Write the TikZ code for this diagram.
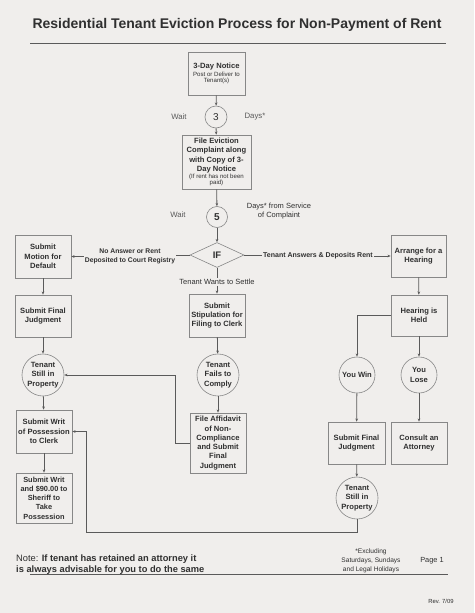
\documentclass[tikz,border=0pt]{standalone}
\usepackage{fontspec}
\setmainfont{Liberation Sans}
\usetikzlibrary{shapes.geometric,arrows.meta,calc}
\definecolor{paper}{RGB}{240,238,236}
\definecolor{ink}{RGB}{48,48,48}
\definecolor{rule}{RGB}{90,90,90}
\definecolor{frame}{RGB}{135,135,135}
\newcommand\finetext{\mdseries\fontsize{6.1}{6.8}\selectfont}

\begin{document}
\begin{tikzpicture}[x=1pt,y=-1pt,
    proc/.style={draw=frame, line width=0.6pt, align=center, text=ink, inner sep=1pt,
      font=\bfseries\fontsize{7.6}{9.3}\selectfont},
    state/.style={circle, draw=frame, line width=0.6pt, align=center, text=ink, inner sep=0pt,
      font=\bfseries\fontsize{7.6}{9.3}\selectfont},
    lbl/.style={text=ink, inner sep=1pt, align=center, font=\fontsize{7.5}{9}\selectfont},
    arr/.style={draw=rule, line width=0.8pt, -{Stealth[length=3.2pt,width=2.6pt]}},
    link/.style={draw=rule, line width=0.8pt}]
                % Page
                \fill[paper] (0,0) rectangle (474,613);
                \useasboundingbox (0,0) rectangle (474,613);

                % Title
                \node[text=ink, font=\bfseries\fontsize{14}{16}\selectfont] (title) at (237,25)
                    {Residential Tenant Eviction Process for Non-Payment of Rent};
                \draw[rule, line width=0.7pt] (30,43) -- (446,43);

                % Notice and waiting periods
                \node[proc, minimum width=57, minimum height=43] (notice) at (216.5,73.5)
                    {3-Day Notice\\[-1.5pt]\finetext Post or Deliver to\\[-3.2pt]\finetext Tenant(s)};
                \node[state, minimum size=22, font=\fontsize{10}{11}\selectfont] (three) at (216,117) {3};
                \node[lbl, text=ink!80, font=\fontsize{7.8}{9}\selectfont] (wait1) at (179,117) {Wait};
                \node[lbl, text=ink!80, font=\fontsize{7.8}{9}\selectfont] (days1) at (255,117) {Days*};
                \node[proc, minimum width=69, minimum height=54, inner sep=0.5pt] (file) at (216.5,162)
                    {File Eviction\\Complaint along\\with Copy of 3-\\Day Notice\\[-2pt]\finetext (If rent has not been\\[-3.2pt]\finetext paid)};
                \node[state, minimum size=21, font=\bfseries\fontsize{10}{11}\selectfont] (five) at (217,217) {5};
                \node[lbl, text=ink!80, font=\fontsize{7.8}{9}\selectfont] (wait2) at (178,215) {Wait};
                \node[lbl] (days2) at (279,211.5) {Days* from Service\\of Complaint};

                % Decision
                \node[diamond, draw=frame, line width=0.6pt, text=ink, inner sep=0pt,
                    minimum width=54, minimum height=25, font=\bfseries\fontsize{9.5}{10}\selectfont] (ifd) at (217,255) {IF};
                \node[lbl, font=\bfseries\fontsize{6.8}{8.8}\selectfont] (noans) at (130,256)
                    {No Answer or Rent\\Deposited to Court Registry};
                \node[lbl, font=\bfseries\fontsize{7}{8.8}\selectfont] (answers) at (318,256)
                    {Tenant Answers \& Deposits Rent};
                \node[lbl] (settle) at (217,282) {Tenant Wants to Settle};

                % Left column
                \node[proc, minimum width=56, minimum height=43] (motion) at (43,256.5) {Submit\\Motion for\\Default};
                \node[proc, minimum width=56, minimum height=42] (judgL) at (43,316) {Submit Final\\Judgment};
                \node[state, minimum size=42] (stillL) at (43,375) {Tenant\\Still in\\Property};
                \node[proc, minimum width=56, minimum height=43] (writ) at (44,431.5) {Submit Writ\\of Possession\\to Clerk};
                \node[proc, minimum width=56, minimum height=50, font=\bfseries\fontsize{7.4}{9.2}\selectfont] (sheriff) at (44,498)
                    {Submit Writ\\and \$90.00 to\\Sheriff to\\Take\\Possession};

                % Middle column
                \node[proc, minimum width=56, minimum height=43] (stip) at (217,315.5) {Submit\\Stipulation for\\Filing to Clerk};
                \node[state, minimum size=42] (fails) at (218,375) {Tenant\\Fails to\\Comply};
                \node[proc, minimum width=56, minimum height=60] (affid) at (218,443)
                    {File Affidavit\\of Non-\\Compliance\\and Submit\\Final\\Judgment};

                % Right column
                \node[proc, minimum width=55, minimum height=42] (arrange) at (418.5,256) {Arrange for a\\Hearing};
                \node[proc, minimum width=56, minimum height=41] (held) at (419,315.5) {Hearing is\\Held};
                \node[state, minimum size=36] (win) at (357,375) {You Win};
                \node[state, minimum size=36] (lose) at (419,375) {You\\Lose};
                \node[proc, minimum width=57, minimum height=42] (judgR) at (356.5,443) {Submit Final\\Judgment};
                \node[proc, minimum width=56, minimum height=42] (consult) at (419,443) {Consult an\\Attorney};
                \node[state, minimum size=42] (stillR) at (357,498) {Tenant\\Still in\\Property};

                % Main line
                \draw[arr] (notice) -- (three);
                \draw[arr] (three) -- (file);
                \draw[arr] (file) -- (five);
                \draw[arr] (five) -- (ifd);

                % Branches from the decision
                \draw[link] (ifd.west) -- (noans.east |- ifd.west);
                \draw[arr] (noans.west |- motion.east) -- (motion.east);
                \draw[link] (ifd.east) -- (answers.west |- ifd.east);
                \draw[arr] (answers.east) -- (arrange.west);
                \draw[link] (ifd.south) -- (settle.north);
                \draw[arr] (settle.south) -- (stip.north);

                % Left column links
                \draw[arr] (motion) -- (judgL);
                \draw[arr] (judgL) -- (stillL);
                \draw[arr] (stillL) -- (writ);
                \draw[arr] (writ) -- (sheriff);

                % Middle column links
                \draw[arr] (stip) -- (fails);
                \draw[arr] (fails) -- (affid);
                \draw[arr] (affid.west) -- ++(-14,0) |- (stillL.east);

                % Right column links
                \draw[arr] (arrange) -- (held);
                \draw[arr] (held.west) -| (win.north);
                \draw[arr] (held.south) -- (lose.north);
                \draw[arr] (win) -- (judgR);
                \draw[arr] (lose) -- (consult);
                \draw[arr] (judgR) -- (stillR);

                % Return loop to the writ
                \coordinate (loop) at (86,532);
                \draw[arr] (stillR.south) |- (loop) |- (writ.east);

                % Footer
                \node[anchor=west, text=ink, align=left, inner sep=0pt, font=\fontsize{9.3}{11}\selectfont] (note) at (16,564.5)
                    {Note: \textbf{If tenant has retained an attorney it}\\\textbf{is always advisable for you to do the same}};
                \draw[rule, line width=0.7pt] (30,574) -- (448,574);
                \node[lbl, font=\fontsize{6.6}{9}\selectfont] (holidays) at (371,561)
                    {*Excluding\\Saturdays, Sundays\\and Legal Holidays};
                \node[lbl, font=\fontsize{7.4}{8}\selectfont] (page) at (432,561) {Page 1};
                \node[lbl, font=\fontsize{5.9}{6}\selectfont] (rev) at (441,601) {Rev. 7/09};
\end{tikzpicture}
\end{document}
